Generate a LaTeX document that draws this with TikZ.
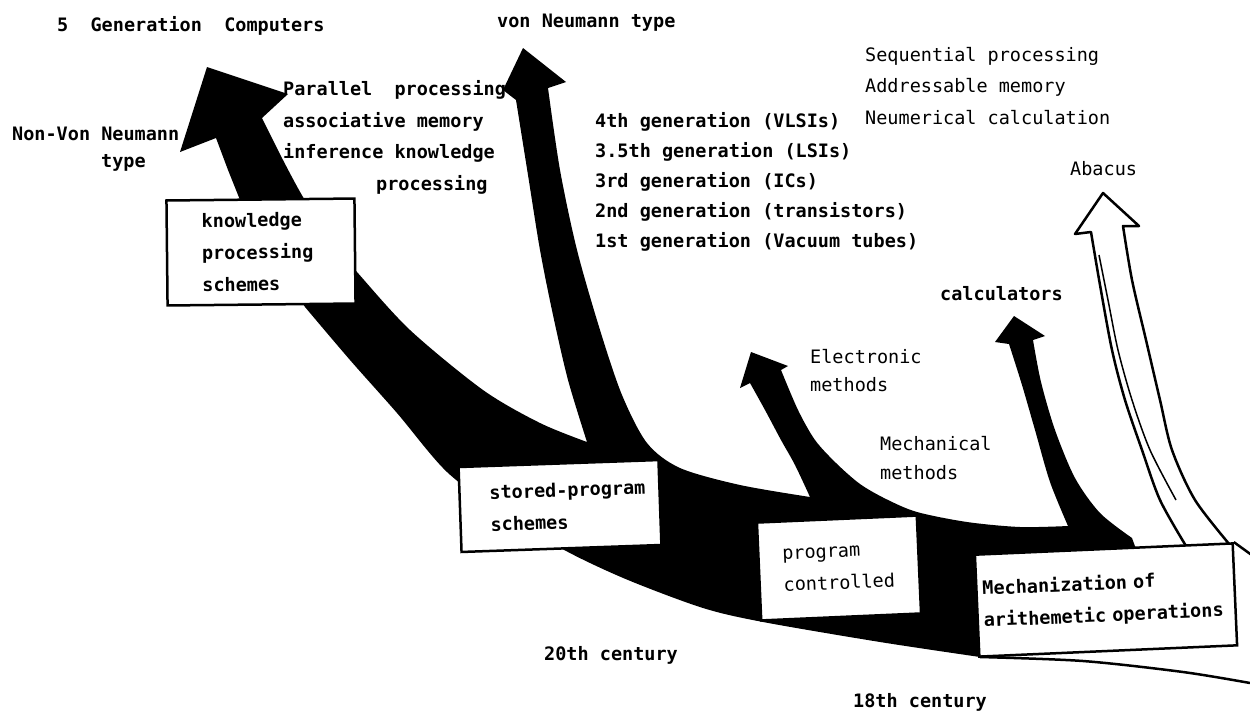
\documentclass[tikz,border=0pt]{standalone}
\usepackage{fontspec}
\setmonofont{DejaVu Sans Mono}
\usepackage{tikz}
\usepackage{xcolor}
\usetikzlibrary{positioning}
\definecolor{inkcolor}{RGB}{0,0,0}
\definecolor{papercolor}{RGB}{255,255,255}
\newcommand{\plotterfont}[1]{\ttfamily\fontsize{18.5}{#1}\selectfont}

\begin{document}
\begin{tikzpicture}[
    x=1pt, y=-1pt,
    txt/.style={font=\plotterfont{23}\bfseries, anchor=base west, align=left, inner sep=0pt},
    box/.style={rectangle, draw=inkcolor, fill=papercolor, line width=2.5pt, align=left, inner ysep=0pt, font=\plotterfont{32}\bfseries},
    band/.style={fill=inkcolor},
    hollow/.style={draw=inkcolor, fill=papercolor, line width=2.5pt, line join=round},
    edge/.style={draw=inkcolor, line width=2.5pt, line join=round}
]
\useasboundingbox (0,0) rectangle (1250,713);

% Main band with the black arrows
\fill[band]
  (216,138) -- (180,152) -- (207,67) -- (288,94) -- (262,118)
  -- plot[smooth] coordinates {(262,118) (283,160) (303,197) (330,240) (357,272) (410,330) (483,390) (540,423) (587,442)}
  -- plot[smooth] coordinates {(587,442) (568,380) (553,315) (540,250) (528,175) (516,100)}
  -- (503,90) -- (523,48) -- (566,82) -- (548,88)
  -- plot[smooth] coordinates {(548,88) (560,170) (577,250) (600,330) (622,395) (647,443) (680,468) (740,485) (810,497)}
  -- plot[smooth] coordinates {(810,497) (795,465) (781,440) (765,410) (750,383)}
  -- (740,388) -- (751,352) -- (788,366) -- (781,370)
  -- plot[smooth] coordinates {(781,370) (798,410) (815,440) (836,463) (860,484) (886,499) (917,512) (967,522) (1020,527) (1068,526)}
  -- plot[smooth] coordinates {(1068,526) (1050,482) (1035,430) (1022,385) (1009,344)}
  -- (995,342) -- (1014,316) -- (1045,336) -- (1033,340)
  -- plot[smooth] coordinates {(1033,340) (1041,382) (1055,430) (1075,478) (1100,513) (1132,538)}
  -- (1140,560) -- (1100,640) -- (980,657)
  -- plot[smooth] coordinates {(980,657) (880,642) (763,622) (703,608) (628,580) (568,552) (505,515) (447,472) (397,413) (350,360) (305,307)}
  -- (240,200) -- (228,170) -- cycle;

% Abacus arrow (hollow)
\filldraw[hollow]
  plot[smooth] coordinates {(1186,546) (1160,500) (1142,450) (1125,400) (1112,350) (1100,285) (1091,232)}
  -- (1075,234) -- (1103,193) -- (1139,226) -- (1123,226)
  -- plot[smooth] coordinates {(1123,226) (1132,280) (1146,340) (1160,400) (1172,450) (1195,500) (1230,545)};
\draw[inkcolor, line width=1.5pt] plot[smooth] coordinates {(1099,255) (1108,300) (1118,350) (1132,400) (1150,450) (1176,500)};

% Boxes
\node[box, rotate=0.6, minimum width=188pt, minimum height=105pt, text width=118pt, inner xsep=35pt] (knowbox) at (261,252) {knowledge\\processing\\schemes};
\node[box, rotate=2, minimum width=200pt, minimum height=85pt, text width=140pt, inner xsep=30pt] (storedbox) at (560,506) {\mbox{stored-program}\\schemes};
\node[box, rotate=2.5, minimum width=160pt, minimum height=98pt, text width=112pt, inner xsep=24pt, font=\plotterfont{32}] (progbox) at (839,568) {program\\controlled};
\node[box, rotate=2.5, minimum width=258pt, minimum height=102pt, text width=246pt, inner xsep=6pt] (mechbox) at (1106,600) {Mechanization of\\arithemetic operations};

% Side of the last box and the ground line
\draw[edge] (mechbox.north east) -- ++(18,13) -- ++(1,89);
\draw[edge] plot[smooth] coordinates {(980,657) (1083,661) (1183,672) (1250,683)};

% Labels (multi-line ones sit on their last line)
\node[txt] (title) at (57,31) {5\ \ Generation\ \ Computers};
\node[txt] (vontitle) at (497,27) {von Neumann type};
\node[txt, font=\plotterfont{27}\bfseries] (nonvon) at (12,167) {Non-Von Neumann\\\hspace*{89pt}type};
\node[txt, font=\plotterfont{31.5}\bfseries] (parallel) at (283,190) {Parallel\ \ processing\\associative memory\\inference knowledge\\\hspace*{93pt}processing};
\node[txt, font=\plotterfont{30}\bfseries] (gens) at (595,247) {4th generation (VLSIs)\\3.5th generation (LSIs)\\3rd generation (ICs)\\2nd generation (transistors)\\1st generation (Vacuum tubes)};
\node[txt, font=\plotterfont{31.5}] (seq) at (865,124) {Sequential processing\\Addressable memory\\Neumerical calculation};
\node[txt, font=\plotterfont{23}] (abacus) at (1070,175) {Abacus};
\node[txt] (calc) at (940,300) {calculators};
\node[txt, font=\plotterfont{28}] (electronic) at (810,391) {Electronic\\methods};
\node[txt, font=\plotterfont{29}] (mechanical) at (880,479) {Mechanical\\methods};
\node[txt] (c20) at (544,660) {20th century};
\node[txt] (c18) at (853,707) {18th century};

\end{tikzpicture}
\end{document}
